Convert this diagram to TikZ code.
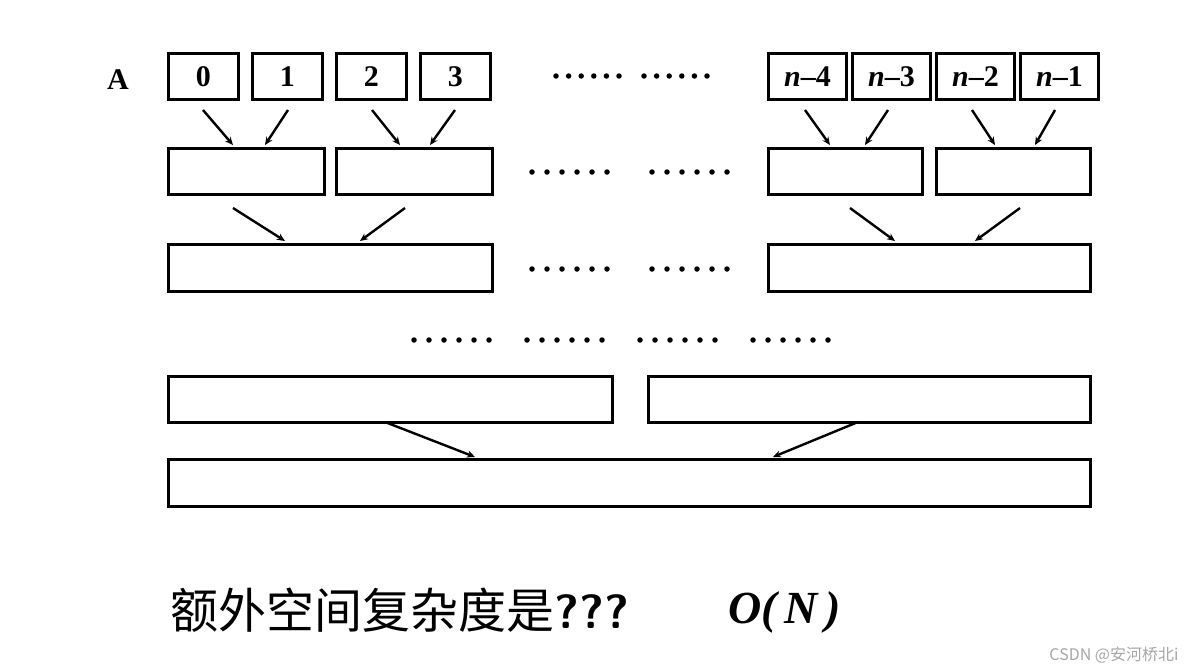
\documentclass[tikz,border=0pt]{standalone}
\usepackage{fontspec}
\setmainfont{Liberation Serif}
\newfontfamily\cjk{Noto Sans CJK SC}
\usetikzlibrary{arrows.meta}
\begin{document}
\begin{tikzpicture}[x=1pt,y=-1pt,
  bx/.style={draw,line width=2.8pt,inner sep=0pt,anchor=north west},
  lbl/.style={font=\fontsize{30}{32}\selectfont\bfseries},
  ar/.style={line width=2.4pt,-{Stealth[length=8pt,width=7pt]}},
  dot/.style={fill,circle,inner sep=0pt,minimum size=5.5pt}]
\useasboundingbox (0,0) rectangle (1189,672);
\node[lbl] (A) at (118,80) {A};
% row 1
\foreach \n/\x/\t in {a0/167/0,a1/251/1,a2/335/2,a3/419/3}
  \node[bx,minimum width=70pt,minimum height=46pt,lbl] (\n) at (\x,52) {\t};
\foreach \n/\x/\t in {a4/767/{\textit{n}–4},a5/851/{\textit{n}–3},a6/935/{\textit{n}–2},a7/1019/{\textit{n}–1}}
  \node[bx,minimum width=78pt,minimum height=46pt,lbl] (\n) at (\x,52) {\t};
% dots
\foreach \s/\y/\d in {556/76/12.6,644/76/12.6,532/172/15,652/172/15,532/269/15,652/269/15,414/340/15,527/340/15,640/340/15,753/340/15}
  \foreach \k in {0,...,5} \node[dot] at (\s+\k*\d,\y) {};
% row 2
\node[bx,minimum width=156pt,minimum height=46pt] (b0) at (167,147) {};
\node[bx,minimum width=156pt,minimum height=46pt] (b1) at (335,147) {};
\node[bx,minimum width=154pt,minimum height=46pt] (b2) at (767,147) {};
\node[bx,minimum width=154pt,minimum height=46pt] (b3) at (935,147) {};
% row 3
\node[bx,minimum width=324pt,minimum height=47pt] (c0) at (167,243) {};
\node[bx,minimum width=322pt,minimum height=47pt] (c1) at (767,243) {};
% row 5
\node[bx,minimum width=444pt,minimum height=46pt] (e0) at (167,375) {};
\node[bx,minimum width=442pt,minimum height=46pt] (e1) at (647,375) {};
% row 6
\node[bx,minimum width=922pt,minimum height=47pt] (f0) at (167,458) {};
% arrows
\coordinate (p1) at (203,110); \coordinate (q1) at (233,145);
\coordinate (p2) at (288,110); \coordinate (q2) at (265,145);
\coordinate (p3) at (372,110); \coordinate (q3) at (400,145);
\coordinate (p4) at (455,110); \coordinate (q4) at (430,145);
\coordinate (p5) at (805,110); \coordinate (q5) at (830,145);
\coordinate (p6) at (888,110); \coordinate (q6) at (865,145);
\coordinate (p7) at (972,110); \coordinate (q7) at (995,145);
\coordinate (p8) at (1055,110); \coordinate (q8) at (1035,145);
\foreach \i in {1,...,8} \draw[ar] (p\i) -- (q\i);
\coordinate (r1) at (233,208); \coordinate (s1) at (285,241);
\coordinate (r2) at (405,208); \coordinate (s2) at (360,241);
\coordinate (r3) at (850,208); \coordinate (s3) at (895,241);
\coordinate (r4) at (1020,208); \coordinate (s4) at (975,241);
\foreach \i in {1,...,4} \draw[ar] (r\i) -- (s\i);
\coordinate (u1) at (385,422); \coordinate (v1) at (475,457);
\coordinate (u2) at (858,422); \coordinate (v2) at (773,457);
\draw[ar] (u1) -- (v1); \draw[ar] (u2) -- (v2);
% text
\node[anchor=west,inner sep=0pt,font=\fontsize{48}{52}\selectfont] (t) at (170,610) {{\cjk 额外空间复杂度是}{\sffamily\bfseries ???}};
\node[anchor=west,inner sep=0pt,font=\fontsize{46}{50}\selectfont\bfseries\itshape] (o) at (728,612) {O(\,N\,)};
\node[anchor=east,text=gray!70,font=\fontsize{16}{18}\selectfont\cjk] (w) at (1182,655) {CSDN @安河桥北i};
\end{tikzpicture}
\end{document}
